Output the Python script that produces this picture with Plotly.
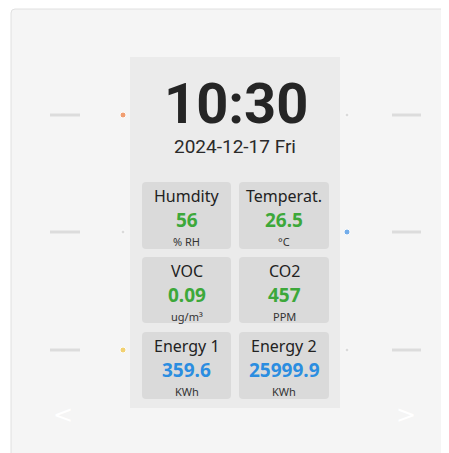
import plotly.graph_objects as go

W, H = 449, 453
OFF = 8  # page body margin compensation

clock_time = "10:30"
clock_date = "2024-12-17 Fri"

card_labels = ["Humdity", "Temperat.", "VOC", "CO2", "Energy 1", "Energy 2"]
card_values = ["56", "26.5", "0.09", "457", "359.6", "25999.9"]
card_units = ["% RH", "°C", "ug/m³", "PPM", "KWh", "KWh"]
card_colors = ["#3da83a", "#3da83a", "#3da83a", "#3da83a", "#2b8de0", "#2b8de0"]

indicator_colors_left = ["#f07a3a", "#cfcfcf", "#f2c23a"]
indicator_colors_right = ["#cfcfcf", "#3d8fe6", "#cfcfcf"]
row_y = [115, 232, 350]

fig = go.Figure()
shapes = []
ann = []

def rrect(x0, y0, x1, y1, r, fill, line=None):
    p = (f"M {x0+r},{y0} L {x1-r},{y0} Q {x1},{y0} {x1},{y0+r} "
         f"L {x1},{y1-r} Q {x1},{y1} {x1-r},{y1} L {x0+r},{y1} Q {x0},{y1} {x0},{y1-r} "
         f"L {x0},{y0+r} Q {x0},{y0} {x0+r},{y0} Z")
    return dict(type="path", path=p, fillcolor=fill,
                line=dict(color=line or fill, width=1 if line else 0), layer="below")

# device body
shapes.append(rrect(11, 9, 480, 480, 4, "#f5f5f5", "#e0e0e0"))
# screen
shapes.append(dict(type="rect", x0=130, y0=57, x1=340, y1=408, fillcolor="#ebebeb",
                   line=dict(width=0), layer="below"))

# side dashes and dots
for i, y in enumerate(row_y):
    shapes.append(dict(type="line", x0=50, x1=80, y0=y, y1=y, line=dict(color="#dcdcdc", width=3)))
    shapes.append(dict(type="line", x0=392, x1=421, y0=y, y1=y, line=dict(color="#dcdcdc", width=3)))
fig.add_trace(go.Scatter(x=[123]*3, y=row_y, mode="markers",
                         marker=dict(color=indicator_colors_left, size=[6, 4, 6]),
                         hoverinfo="skip", showlegend=False))
fig.add_trace(go.Scatter(x=[347]*3, y=row_y, mode="markers",
                         marker=dict(color=indicator_colors_right, size=[4, 6, 4]),
                         hoverinfo="skip", showlegend=False))

# clock
ann.append(dict(x=236, y=104, text=f"<b>{clock_time}</b>", showarrow=False,
                font=dict(family="Roboto", size=56, color="#252525")))
ann.append(dict(x=235, y=146, text=clock_date, showarrow=False,
                font=dict(family="Roboto", size=19, color="#2a2a2a")))

# cards
col_x = [(142, 231), (239, 329)]
row_y_card = [(182, 249), (257, 323), (332, 399)]
for i in range(len(card_labels)):
    c, r = i % 2, i // 2
    x0, x1 = col_x[c]
    y0, y1 = row_y_card[r]
    shapes.append(rrect(x0, y0, x1, y1, 4, "#dadada"))
    cx = (x0 + x1) / 2
    ann.append(dict(x=cx, y=y0 + 14, text=card_labels[i], showarrow=False,
                    font=dict(family="Noto Sans", size=16, color="#222222")))
    ann.append(dict(x=cx, y=y0 + 38, text=f"<b>{card_values[i]}</b>", showarrow=False,
                    font=dict(family="Noto Sans", size=19, color=card_colors[i])))
    ann.append(dict(x=cx, y=y0 + 59, text=card_units[i], showarrow=False,
                    font=dict(family="Noto Sans", size=11, color="#333333")))

# chevrons
ann.append(dict(x=63, y=415, text="&lt;", showarrow=False,
                font=dict(family="DejaVu Sans", size=24, color="#ffffff")))
ann.append(dict(x=406, y=415, text="&gt;", showarrow=False,
                font=dict(family="DejaVu Sans", size=24, color="#ffffff")))

fig.update_layout(
    width=W, height=H, margin=dict(l=0, r=0, t=0, b=0),
    paper_bgcolor="#ffffff", plot_bgcolor="#ffffff",
    xaxis=dict(range=[OFF, W + OFF], visible=False, fixedrange=True),
    yaxis=dict(range=[H + OFF, OFF], visible=False, fixedrange=True),
    shapes=shapes, annotations=ann, showlegend=False,
)
fig.write_html("out.html")
